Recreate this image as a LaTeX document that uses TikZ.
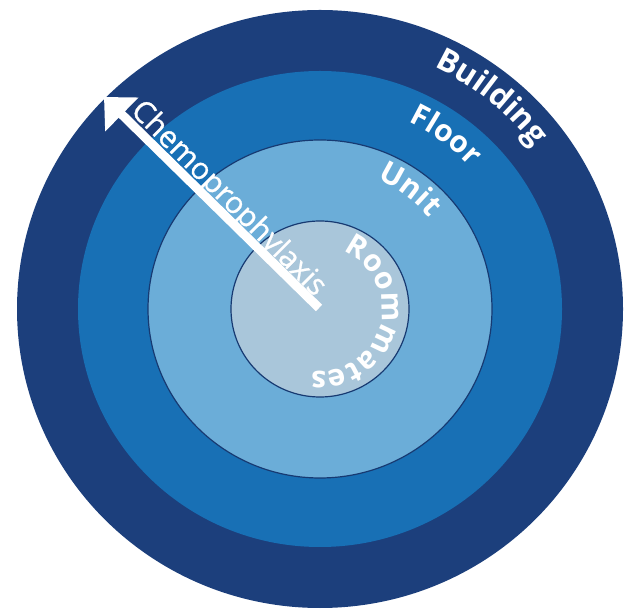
\documentclass[tikz,border=0pt]{standalone}
\usepackage{fontspec}
\setmainfont{Open Sans}
\newfontfamily\chemofont[FakeBold=0.8]{Open Sans}
\usetikzlibrary{decorations.text, arrows.meta, calc}
\definecolor{ringouter}{HTML}{1C3F7C}
\definecolor{ringfloor}{HTML}{1870B5}
\definecolor{ringunit}{HTML}{6BADD8}
\definecolor{ringroom}{HTML}{A9C6DA}
\definecolor{ringedge}{HTML}{173A72}
\newcommand{\lblfont}{\fontsize{30}{36}\selectfont\bfseries\color{white}}
\newcommand{\bigfont}{\fontsize{31.5}{36}\selectfont\bfseries\color{white}}
\tikzset{
  ringline/.style={draw=ringedge, line width=1.2pt},
  arclabel/.style={decorate, decoration={text along path, text align=center, text={|\lblfont|#1}}},
  bigarclabel/.style={decorate, decoration={text along path, text align=center, text={|\bigfont|#1}}},
  shaft/.style={draw=white, line width=9pt, -{Triangle[length=25pt, width=46pt]}},
}
\begin{document}
\begin{tikzpicture}[x=1pt,y=1pt]
\useasboundingbox (0,0) rectangle (631,610);
\coordinate (O) at (320,301);
\fill[ringouter] (O) ellipse [x radius=303, y radius=299];
\fill[ringfloor] (O) ellipse [x radius=242, y radius=238];
\filldraw[fill=ringunit, ringline] (O) ellipse [x radius=172, y radius=169];
\filldraw[fill=ringroom, ringline] (O) ellipse [x radius=89, y radius=88];
% ring labels
\path[bigarclabel=Building] ($(O)+(141:268)$) arc[start angle=141, end angle=-39, radius=268];
\path[arclabel=Floor] ($(O)+(144:207)$) arc[start angle=144, end angle=-36, radius=207];
\path[arclabel=Unit] ($(O)+(143:142)$) arc[start angle=143, end angle=-37, radius=142];
\path[arclabel=Roommates] ($(O)+(165:62)$) arc[start angle=165, end angle=-195, radius=62];
% arrow
\coordinate (tail) at (319,302);
\coordinate (tip) at (104,513);
\draw[shaft] (tail) -- (tip);
\node[rotate=-45, anchor=base, inner sep=0, text=white, font=\chemofont\fontsize{30}{36}\selectfont] (chemo) at ($(tip)!160pt!(tail)+(45:6)$) {Chemoprophylaxis};
\end{tikzpicture}
\end{document}
